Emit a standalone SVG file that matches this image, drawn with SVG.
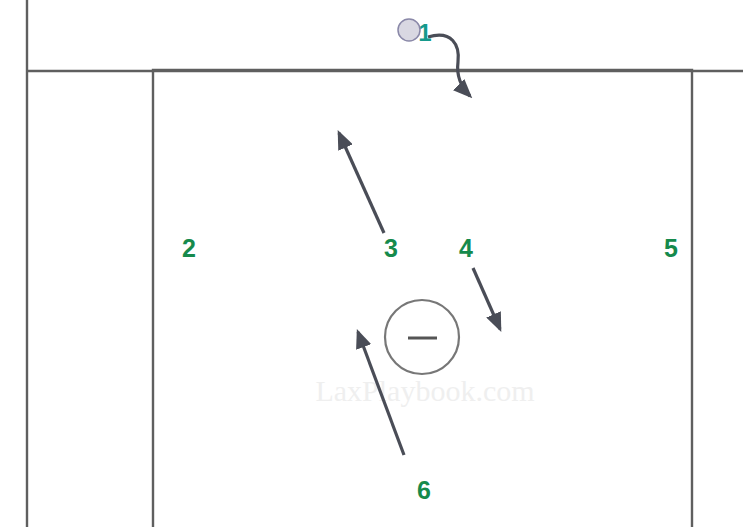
<svg xmlns="http://www.w3.org/2000/svg" width="743" height="527" viewBox="0 0 743 527">
<style>
.ln{stroke:#5f5f5f;stroke-width:2.4;fill:none}
.lbl{font-family:"Liberation Sans",Arial,sans-serif;font-weight:bold;font-size:25px;fill:#168a4c;text-anchor:middle}
.arr{stroke:#4a4d57;stroke-width:3.2;fill:none;marker-end:url(#ah)}
</style>
<defs>
<marker id="ah" markerWidth="6" markerHeight="5" refX="5" refY="2.5" orient="auto" markerUnits="strokeWidth">
<path d="M0,0 L6,2.5 L0,5 Z" fill="#4a4d57"/>
</marker>
</defs>
<rect width="743" height="527" fill="#fff"/>
<g id="field">
<line class="ln" x1="27" y1="0" x2="27" y2="527"/>
<line class="ln" x1="27" y1="71" x2="743" y2="71"/>
<path class="ln" d="M153,527 V70 H692 V527"/>
</g>
<text x="425" y="401" font-family="Liberation Serif,serif" font-size="30" fill="#efefef" text-anchor="middle">LaxPlaybook.com</text>
<g id="goal">
<circle cx="422" cy="337" r="37" fill="none" stroke="#777" stroke-width="2.2"/>
<line x1="408" y1="338" x2="437" y2="338" stroke="#555" stroke-width="3"/>
</g>
<g id="connectors">
<path class="arr" d="M428,37 C452,30 460,45 458,62 C456,78 462,88 470,96"/>
<line class="arr" x1="384" y1="233" x2="339" y2="133"/>
<line class="arr" x1="473" y1="268" x2="500" y2="329"/>
<line class="arr" x1="404" y1="455" x2="358" y2="332"/>
</g>
<g id="p1"><text x="425" y="41" font-family="Liberation Sans,Arial,sans-serif" font-weight="bold" font-size="24" fill="#159a8c" text-anchor="middle">1</text></g>
<g id="ball">
<circle cx="409" cy="30" r="11" fill="#d9d8e2" stroke="#8a88a8" stroke-width="1.5"/>
</g>
<g id="p2"><text class="lbl" x="189" y="257">2</text></g>
<g id="p3"><text class="lbl" x="391" y="257">3</text></g>
<g id="p4"><text class="lbl" x="466" y="257">4</text></g>
<g id="p5"><text class="lbl" x="671" y="257">5</text></g>
<g id="p6"><text class="lbl" x="424" y="499">6</text></g>
</svg>
